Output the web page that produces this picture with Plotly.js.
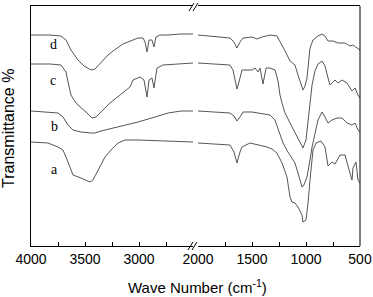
<!DOCTYPE html>
<html><head><meta charset="utf-8">
<script src="https://cdn.plot.ly/plotly-3.0.1.min.js"></script>
<style>html,body{margin:0;padding:0;background:#fff}#plot{width:373px;height:297px}</style>
</head><body><div id="plot"></div>
<script>
// Curve labels
const curveNames = ['a', 'b', 'c', 'd'];
// Break in the wavenumber axis
const leftRange = [4000, 2500];
const rightRange = [2000, 500];
const majorTicks = [4000, 3500, 3000, 2000, 1500, 1000, 500];
const majorLabels = ['4000', '3500', '3000', '2000', '1500', '1000', '500'];
const minorTicks = [3750, 3250, 2750, 1750, 1250, 750];

// Curve a (bottom)
const waveA = [4000,3843,3750,3704,3676,3639,3611,3537,3454,3426,3380,3315,3259,3194,3130,3009,2500,
  2000,1704,1667,1639,1611,1593,1519,1361,1315,1269,1222,1176,1148,1130,1102,1074,1037,1028,1000,981,963,935,907,861,824,796,759,731,685,639,611,574,565,537,519,500];
const transA = [104,103,99,96,89,79,71,68,64,66,76,89,96,103,106,106,104,
  103,101,94,83,94,99,103,99,97,93,83,69,49,44,43,39,31,24,26,43,66,96,103,105,99,80,84,82,91,91,80,66,78,84,66,63];
// Curve b
const waveB = [4000,3750,3704,3657,3611,3537,3444,3407,3352,3194,3009,2852,2731,2611,2500,
  2000,1704,1667,1639,1611,1583,1500,1333,1287,1259,1213,1167,1102,1074,1037,1019,991,963,944,889,852,824,796,759,713,667,620,574,546,519,500];
const transB = [135,133,129,121,116,114,113,113,115,119,124,129,133,135,135,
  135,133,130,125,129,134,134,131,126,118,103,94,83,73,59,61,69,86,99,126,134,129,123,126,128,128,123,121,123,116,114];
// Curve c
const waveC = [4000,3824,3722,3676,3657,3630,3602,3565,3491,3435,3398,3361,3269,3176,3083,3056,2991,2954,2926,2907,2880,2861,2833,2778,2667,2500,
  2000,1704,1676,1639,1611,1593,1500,1472,1444,1426,1398,1370,1333,1287,1259,1241,1222,1194,1148,1083,1037,1028,1000,981,963,944,917,889,852,824,796,778,731,704,667,620,574,546,519,500];
const transC = [182,182,181,174,164,151,146,141,134,128,129,133,143,151,159,166,169,166,149,166,168,158,178,181,182,183,
  183,181,176,157,168,176,176,178,174,178,162,178,178,176,165,151,143,133,123,109,99,98,106,126,145,161,175,182,185,180,168,161,166,163,166,163,155,158,151,148];
// Curve d (top)
const waveD = [4000,3824,3722,3676,3630,3565,3509,3472,3444,3407,3380,3333,3287,3241,3194,3148,3102,3056,3009,2963,2944,2926,2907,2880,2861,2843,2806,2731,2620,2500,
  2000,1704,1667,1639,1611,1583,1500,1454,1407,1333,1269,1222,1194,1148,1102,1074,1037,1028,1009,991,963,935,889,852,824,796,750,704,639,593,565,519,500];
const transD = [211,211,210,206,196,186,180,178,176,177,180,185,191,195,199,202,204,206,208,208,204,194,206,206,199,209,211,211,212,212,
  211,208,204,198,204,208,209,207,209,211,210,201,195,185,181,171,158,156,160,168,198,206,210,212,210,205,205,203,203,200,201,198,196];

const series = [[waveA, transA], [waveB, transB], [waveC, transC], [waveD, transD]];
const lineStyle = {color: '#555555', width: 1};
const traces = [];
series.forEach(([w, t]) => {
  const lx = [], ly = [], rx = [], ry = [];
  w.forEach((v, i) => {
    if (v >= 2500) { lx.push(v); ly.push(t[i]); } else { rx.push(v); ry.push(t[i]); }
  });
  traces.push({x: lx, y: ly, xaxis: 'x', yaxis: 'y', mode: 'lines', line: lineStyle, hoverinfo: 'skip', showlegend: false});
  traces.push({x: rx, y: ry, xaxis: 'x2', yaxis: 'y', mode: 'lines', line: lineStyle, hoverinfo: 'skip', showlegend: false});
});

const L = 31, R = 360, T = 6, B = 246;
const W = R - L, H = B - T;
const px = v => (v - L) / W;
const py = v => (B - v) / H;

function inRange(arr, range) {
  const lo = Math.min(range[0], range[1]), hi = Math.max(range[0], range[1]);
  return arr.map((x, i) => i).filter(i => arr[i] >= lo && arr[i] <= hi);
}

function xAxisFor(range, domain) {
  const mi = inRange(majorTicks, range);
  const ni = inRange(minorTicks, range);
  return {
    domain: domain, range: range, anchor: 'y',
    showline: true, linecolor: '#000', linewidth: 1, mirror: true,
    ticks: 'inside', ticklen: 4, tickcolor: '#000', tickwidth: 1,
    showgrid: false, zeroline: false, tickmode: 'array',
    tickvals: mi.map(i => majorTicks[i]), ticktext: mi.map(i => majorLabels[i]),
    minor: {tickmode: 'array', tickvals: ni.map(i => minorTicks[i]), ticks: 'inside', ticklen: 4,
            tickcolor: '#000', tickwidth: 1, showgrid: false},
    tickfont: {family: 'Liberation Sans, Arial, sans-serif', size: 14, color: '#000'},
    ticklabelstandoff: 0
  };
}

const slash = (x0, y0) => ({type: 'line', xref: 'paper', yref: 'paper',
  x0: px(x0), y0: py(y0 + 4), x1: px(x0 + 5), y1: py(y0 - 4), line: {color: '#000', width: 1}});

const labelPos = [[54, 169], [54, 126], [53, 80], [53, 44]];

const layout = {
  width: 373, height: 297,
  margin: {l: L, r: 373 - R, t: T, b: 297 - B},
  paper_bgcolor: '#fff', plot_bgcolor: '#fff',
  xaxis: xAxisFor(leftRange, [0, 162 / W]),
  xaxis2: xAxisFor(rightRange, [167 / W, 1]),
  yaxis: {range: [0, 240], showline: true, linecolor: '#000', linewidth: 1, ticks: '', showticklabels: false,
          showgrid: false, zeroline: false, anchor: 'x'},
  shapes: [
    {type: 'line', xref: 'paper', yref: 'paper', x0: 1, x1: 1, y0: 0, y1: 1, line: {color: '#000', width: 1}},
    slash(188, 246), slash(192, 246), slash(189, 7), slash(193, 7)
  ],
  annotations: [
    {text: 'Wave Number (cm<sup>-1</sup>)', xref: 'paper', yref: 'paper', x: px(197), y: py(286),
     showarrow: false, xanchor: 'center', yanchor: 'middle',
     font: {family: 'Liberation Sans, Arial, sans-serif', size: 15, color: '#000'}},
    {text: 'Transmittance %', xref: 'paper', yref: 'paper', x: px(8), y: py(129), textangle: -90,
     showarrow: false, xanchor: 'center', yanchor: 'middle',
     font: {family: 'Liberation Sans, Arial, sans-serif', size: 16, color: '#000'}}
  ].concat(curveNames.map((n, i) => ({
    text: n, xref: 'paper', yref: 'paper', x: px(labelPos[i][0]), y: py(labelPos[i][1]),
    showarrow: false, xanchor: 'center', yanchor: 'middle',
    font: {family: 'Liberation Serif, Times New Roman, serif', size: 14, color: '#000'}
  })))
};

Plotly.newPlot('plot', traces, layout, {staticPlot: true, displayModeBar: false});
</script></body></html>
